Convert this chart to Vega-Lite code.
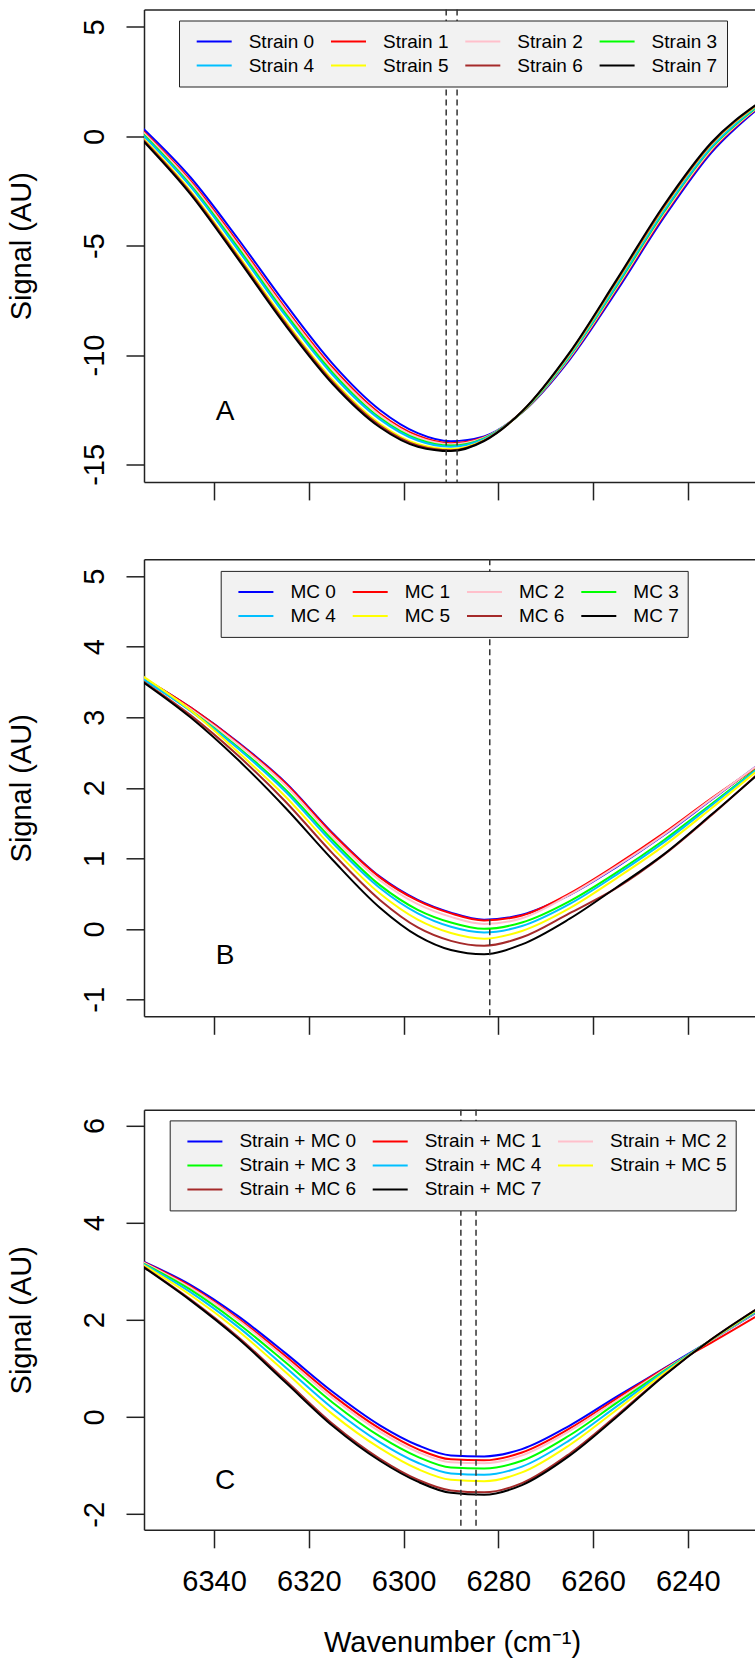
{
"$schema": "https://vega.github.io/schema/vega-lite/v6.json",
"padding": {"left": 7, "top": 8.5, "right": 0, "bottom": 0},
"config": {
  "font": "Liberation Sans",
  "view": {"stroke": null},
  "axis": {"domainColor": "#222", "domainWidth": 1.5, "tickColor": "#222", "tickWidth": 1.5, "tickSize": 18, "labelFont": "Liberation Sans", "labelFontSize": 29, "labelColor": "black", "titleFont": "Liberation Sans", "titleFontSize": 29, "titleFontWeight": "normal", "titleColor": "black", "grid": false, "zindex": 1, "labelFlush": false, "labelOverlap": false},
  "axisY": {"labelAngle": 270, "labelAlign": "center", "labelBaseline": "alphabetic", "labelPadding": 23, "titleAngle": 270, "titleBaseline": "alphabetic", "titleAlign": "center", "titleX": -114},
  "axisX": {"labelAngle": 0, "labelBaseline": "alphabetic", "labelPadding": 43},
  "legend": {"title": null, "symbolType": "stroke", "symbolSize": 1225, "symbolStrokeWidth": 2, "symbolOffset": 7.7, "labelFont": "Liberation Sans", "labelFontSize": 19, "labelColor": "black", "labelOffset": 16, "columnPadding": 7.3, "rowPadding": 0, "clipHeight": 24, "padding": 9, "fillColor": "#f2f2f2", "strokeColor": "#222", "symbolLimit": 0}
},
"datasets": {
  "A": [
    {"s":"Strain 0","x":6355,"y":0.36},{"s":"Strain 0","x":6345,"y":-1.87},{"s":"Strain 0","x":6335,"y":-4.67},{"s":"Strain 0","x":6325,"y":-7.64},{"s":"Strain 0","x":6315,"y":-10.39},{"s":"Strain 0","x":6305,"y":-12.51},{"s":"Strain 0","x":6297,"y":-13.57},{"s":"Strain 0","x":6290,"y":-13.94},{"s":"Strain 0","x":6283,"y":-13.72},{"s":"Strain 0","x":6275,"y":-12.63},{"s":"Strain 0","x":6265,"y":-10.23},{"s":"Strain 0","x":6255,"y":-7.07},{"s":"Strain 0","x":6245,"y":-3.70},{"s":"Strain 0","x":6235,"y":-0.74},{"s":"Strain 0","x":6225,"y":1.30},
    {"s":"Strain 1","x":6355,"y":0.25},{"s":"Strain 1","x":6345,"y":-2.02},{"s":"Strain 1","x":6335,"y":-4.85},{"s":"Strain 1","x":6325,"y":-7.84},{"s":"Strain 1","x":6315,"y":-10.57},{"s":"Strain 1","x":6305,"y":-12.67},{"s":"Strain 1","x":6297,"y":-13.69},{"s":"Strain 1","x":6290,"y":-14.03},{"s":"Strain 1","x":6283,"y":-13.76},{"s":"Strain 1","x":6275,"y":-12.62},{"s":"Strain 1","x":6265,"y":-10.16},{"s":"Strain 1","x":6255,"y":-6.97},{"s":"Strain 1","x":6245,"y":-3.59},{"s":"Strain 1","x":6235,"y":-0.65},{"s":"Strain 1","x":6225,"y":1.35},
    {"s":"Strain 2","x":6355,"y":0.19},{"s":"Strain 2","x":6345,"y":-2.10},{"s":"Strain 2","x":6335,"y":-4.95},{"s":"Strain 2","x":6325,"y":-7.93},{"s":"Strain 2","x":6315,"y":-10.67},{"s":"Strain 2","x":6305,"y":-12.75},{"s":"Strain 2","x":6297,"y":-13.76},{"s":"Strain 2","x":6290,"y":-14.08},{"s":"Strain 2","x":6283,"y":-13.78},{"s":"Strain 2","x":6275,"y":-12.61},{"s":"Strain 2","x":6265,"y":-10.13},{"s":"Strain 2","x":6255,"y":-6.91},{"s":"Strain 2","x":6245,"y":-3.53},{"s":"Strain 2","x":6235,"y":-0.60},{"s":"Strain 2","x":6225,"y":1.37},
    {"s":"Strain 3","x":6355,"y":0.11},{"s":"Strain 3","x":6345,"y":-2.22},{"s":"Strain 3","x":6335,"y":-5.08},{"s":"Strain 3","x":6325,"y":-8.08},{"s":"Strain 3","x":6315,"y":-10.80},{"s":"Strain 3","x":6305,"y":-12.87},{"s":"Strain 3","x":6297,"y":-13.85},{"s":"Strain 3","x":6290,"y":-14.14},{"s":"Strain 3","x":6283,"y":-13.81},{"s":"Strain 3","x":6275,"y":-12.61},{"s":"Strain 3","x":6265,"y":-10.08},{"s":"Strain 3","x":6255,"y":-6.84},{"s":"Strain 3","x":6245,"y":-3.45},{"s":"Strain 3","x":6235,"y":-0.53},{"s":"Strain 3","x":6225,"y":1.40},
    {"s":"Strain 4","x":6355,"y":0.05},{"s":"Strain 4","x":6345,"y":-2.29},{"s":"Strain 4","x":6335,"y":-5.18},{"s":"Strain 4","x":6325,"y":-8.18},{"s":"Strain 4","x":6315,"y":-10.90},{"s":"Strain 4","x":6305,"y":-12.94},{"s":"Strain 4","x":6297,"y":-13.91},{"s":"Strain 4","x":6290,"y":-14.19},{"s":"Strain 4","x":6283,"y":-13.84},{"s":"Strain 4","x":6275,"y":-12.60},{"s":"Strain 4","x":6265,"y":-10.05},{"s":"Strain 4","x":6255,"y":-6.78},{"s":"Strain 4","x":6245,"y":-3.39},{"s":"Strain 4","x":6235,"y":-0.49},{"s":"Strain 4","x":6225,"y":1.43},
    {"s":"Strain 5","x":6355,"y":-0.09},{"s":"Strain 5","x":6345,"y":-2.49},{"s":"Strain 5","x":6335,"y":-5.41},{"s":"Strain 5","x":6325,"y":-8.42},{"s":"Strain 5","x":6315,"y":-11.13},{"s":"Strain 5","x":6305,"y":-13.14},{"s":"Strain 5","x":6297,"y":-14.07},{"s":"Strain 5","x":6290,"y":-14.30},{"s":"Strain 5","x":6283,"y":-13.89},{"s":"Strain 5","x":6275,"y":-12.59},{"s":"Strain 5","x":6265,"y":-9.97},{"s":"Strain 5","x":6255,"y":-6.65},{"s":"Strain 5","x":6245,"y":-3.25},{"s":"Strain 5","x":6235,"y":-0.37},{"s":"Strain 5","x":6225,"y":1.48},
    {"s":"Strain 6","x":6355,"y":-0.14},{"s":"Strain 6","x":6345,"y":-2.56},{"s":"Strain 6","x":6335,"y":-5.50},{"s":"Strain 6","x":6325,"y":-8.52},{"s":"Strain 6","x":6315,"y":-11.22},{"s":"Strain 6","x":6305,"y":-13.22},{"s":"Strain 6","x":6297,"y":-14.13},{"s":"Strain 6","x":6290,"y":-14.35},{"s":"Strain 6","x":6283,"y":-13.91},{"s":"Strain 6","x":6275,"y":-12.58},{"s":"Strain 6","x":6265,"y":-9.93},{"s":"Strain 6","x":6255,"y":-6.60},{"s":"Strain 6","x":6245,"y":-3.20},{"s":"Strain 6","x":6235,"y":-0.33},{"s":"Strain 6","x":6225,"y":1.51},
    {"s":"Strain 7","x":6355,"y":-0.20},{"s":"Strain 7","x":6345,"y":-2.64},{"s":"Strain 7","x":6335,"y":-5.59},{"s":"Strain 7","x":6325,"y":-8.62},{"s":"Strain 7","x":6315,"y":-11.31},{"s":"Strain 7","x":6305,"y":-13.30},{"s":"Strain 7","x":6297,"y":-14.19},{"s":"Strain 7","x":6290,"y":-14.39},{"s":"Strain 7","x":6283,"y":-13.93},{"s":"Strain 7","x":6275,"y":-12.58},{"s":"Strain 7","x":6265,"y":-9.90},{"s":"Strain 7","x":6255,"y":-6.55},{"s":"Strain 7","x":6245,"y":-3.14},{"s":"Strain 7","x":6235,"y":-0.28},{"s":"Strain 7","x":6225,"y":1.53}
  ],
  "B": [
    {"s":"MC 0","x":6355,"y":3.56},{"s":"MC 0","x":6345,"y":3.14},{"s":"MC 0","x":6335,"y":2.65},{"s":"MC 0","x":6325,"y":2.08},{"s":"MC 0","x":6315,"y":1.36},{"s":"MC 0","x":6305,"y":0.74},{"s":"MC 0","x":6297,"y":0.41},{"s":"MC 0","x":6290,"y":0.23},{"s":"MC 0","x":6283,"y":0.13},{"s":"MC 0","x":6275,"y":0.20},{"s":"MC 0","x":6265,"y":0.48},{"s":"MC 0","x":6255,"y":0.88},{"s":"MC 0","x":6245,"y":1.33},{"s":"MC 0","x":6235,"y":1.83},{"s":"MC 0","x":6225,"y":2.33},
    {"s":"MC 1","x":6355,"y":3.56},{"s":"MC 1","x":6345,"y":3.14},{"s":"MC 1","x":6335,"y":2.64},{"s":"MC 1","x":6325,"y":2.07},{"s":"MC 1","x":6315,"y":1.35},{"s":"MC 1","x":6305,"y":0.73},{"s":"MC 1","x":6297,"y":0.40},{"s":"MC 1","x":6290,"y":0.22},{"s":"MC 1","x":6283,"y":0.12},{"s":"MC 1","x":6275,"y":0.19},{"s":"MC 1","x":6265,"y":0.50},{"s":"MC 1","x":6255,"y":0.91},{"s":"MC 1","x":6245,"y":1.36},{"s":"MC 1","x":6235,"y":1.85},{"s":"MC 1","x":6225,"y":2.31},
    {"s":"MC 2","x":6355,"y":3.55},{"s":"MC 2","x":6345,"y":3.12},{"s":"MC 2","x":6335,"y":2.62},{"s":"MC 2","x":6325,"y":2.04},{"s":"MC 2","x":6315,"y":1.31},{"s":"MC 2","x":6305,"y":0.69},{"s":"MC 2","x":6297,"y":0.35},{"s":"MC 2","x":6290,"y":0.17},{"s":"MC 2","x":6283,"y":0.07},{"s":"MC 2","x":6275,"y":0.15},{"s":"MC 2","x":6265,"y":0.48},{"s":"MC 2","x":6255,"y":0.89},{"s":"MC 2","x":6245,"y":1.34},{"s":"MC 2","x":6235,"y":1.84},{"s":"MC 2","x":6225,"y":2.33},
    {"s":"MC 3","x":6355,"y":3.54},{"s":"MC 3","x":6345,"y":3.10},{"s":"MC 3","x":6335,"y":2.58},{"s":"MC 3","x":6325,"y":1.98},{"s":"MC 3","x":6315,"y":1.26},{"s":"MC 3","x":6305,"y":0.62},{"s":"MC 3","x":6297,"y":0.27},{"s":"MC 3","x":6290,"y":0.09},{"s":"MC 3","x":6283,"y":0.00},{"s":"MC 3","x":6275,"y":0.09},{"s":"MC 3","x":6265,"y":0.39},{"s":"MC 3","x":6255,"y":0.80},{"s":"MC 3","x":6245,"y":1.26},{"s":"MC 3","x":6235,"y":1.77},{"s":"MC 3","x":6225,"y":2.29},
    {"s":"MC 4","x":6355,"y":3.54},{"s":"MC 4","x":6345,"y":3.09},{"s":"MC 4","x":6335,"y":2.56},{"s":"MC 4","x":6325,"y":1.95},{"s":"MC 4","x":6315,"y":1.22},{"s":"MC 4","x":6305,"y":0.58},{"s":"MC 4","x":6297,"y":0.22},{"s":"MC 4","x":6290,"y":0.03},{"s":"MC 4","x":6283,"y":-0.05},{"s":"MC 4","x":6275,"y":0.04},{"s":"MC 4","x":6265,"y":0.35},{"s":"MC 4","x":6255,"y":0.77},{"s":"MC 4","x":6245,"y":1.23},{"s":"MC 4","x":6235,"y":1.75},{"s":"MC 4","x":6225,"y":2.28},
    {"s":"MC 5","x":6355,"y":3.58},{"s":"MC 5","x":6345,"y":3.10},{"s":"MC 5","x":6335,"y":2.51},{"s":"MC 5","x":6325,"y":1.88},{"s":"MC 5","x":6315,"y":1.15},{"s":"MC 5","x":6305,"y":0.50},{"s":"MC 5","x":6297,"y":0.13},{"s":"MC 5","x":6290,"y":-0.06},{"s":"MC 5","x":6283,"y":-0.14},{"s":"MC 5","x":6275,"y":-0.03},{"s":"MC 5","x":6265,"y":0.29},{"s":"MC 5","x":6255,"y":0.72},{"s":"MC 5","x":6245,"y":1.18},{"s":"MC 5","x":6235,"y":1.71},{"s":"MC 5","x":6225,"y":2.26},
    {"s":"MC 6","x":6355,"y":3.51},{"s":"MC 6","x":6345,"y":3.03},{"s":"MC 6","x":6335,"y":2.46},{"s":"MC 6","x":6325,"y":1.81},{"s":"MC 6","x":6315,"y":1.07},{"s":"MC 6","x":6305,"y":0.41},{"s":"MC 6","x":6297,"y":0.02},{"s":"MC 6","x":6290,"y":-0.17},{"s":"MC 6","x":6283,"y":-0.24},{"s":"MC 6","x":6275,"y":-0.12},{"s":"MC 6","x":6265,"y":0.22},{"s":"MC 6","x":6255,"y":0.58},{"s":"MC 6","x":6245,"y":1.05},{"s":"MC 6","x":6235,"y":1.61},{"s":"MC 6","x":6225,"y":2.21},
    {"s":"MC 7","x":6355,"y":3.50},{"s":"MC 7","x":6345,"y":3.00},{"s":"MC 7","x":6335,"y":2.40},{"s":"MC 7","x":6325,"y":1.72},{"s":"MC 7","x":6315,"y":0.98},{"s":"MC 7","x":6305,"y":0.30},{"s":"MC 7","x":6297,"y":-0.10},{"s":"MC 7","x":6290,"y":-0.30},{"s":"MC 7","x":6283,"y":-0.36},{"s":"MC 7","x":6275,"y":-0.22},{"s":"MC 7","x":6265,"y":0.14},{"s":"MC 7","x":6255,"y":0.59},{"s":"MC 7","x":6245,"y":1.06},{"s":"MC 7","x":6235,"y":1.62},{"s":"MC 7","x":6225,"y":2.20}
  ],
  "C": [
    {"s":"Strain + MC 0","x":6355,"y":3.20},{"s":"Strain + MC 0","x":6345,"y":2.72},{"s":"Strain + MC 0","x":6335,"y":2.08},{"s":"Strain + MC 0","x":6325,"y":1.32},{"s":"Strain + MC 0","x":6315,"y":0.52},{"s":"Strain + MC 0","x":6305,"y":-0.17},{"s":"Strain + MC 0","x":6297,"y":-0.58},{"s":"Strain + MC 0","x":6290,"y":-0.79},{"s":"Strain + MC 0","x":6283,"y":-0.81},{"s":"Strain + MC 0","x":6275,"y":-0.66},{"s":"Strain + MC 0","x":6265,"y":-0.18},{"s":"Strain + MC 0","x":6255,"y":0.42},{"s":"Strain + MC 0","x":6245,"y":1.00},{"s":"Strain + MC 0","x":6235,"y":1.58},{"s":"Strain + MC 0","x":6225,"y":2.18},
    {"s":"Strain + MC 1","x":6355,"y":3.19},{"s":"Strain + MC 1","x":6345,"y":2.69},{"s":"Strain + MC 1","x":6335,"y":2.03},{"s":"Strain + MC 1","x":6325,"y":1.26},{"s":"Strain + MC 1","x":6315,"y":0.45},{"s":"Strain + MC 1","x":6305,"y":-0.24},{"s":"Strain + MC 1","x":6297,"y":-0.66},{"s":"Strain + MC 1","x":6290,"y":-0.87},{"s":"Strain + MC 1","x":6283,"y":-0.89},{"s":"Strain + MC 1","x":6275,"y":-0.73},{"s":"Strain + MC 1","x":6265,"y":-0.24},{"s":"Strain + MC 1","x":6255,"y":0.38},{"s":"Strain + MC 1","x":6245,"y":0.99},{"s":"Strain + MC 1","x":6235,"y":1.53},{"s":"Strain + MC 1","x":6225,"y":2.10},
    {"s":"Strain + MC 2","x":6355,"y":3.18},{"s":"Strain + MC 2","x":6345,"y":2.66},{"s":"Strain + MC 2","x":6335,"y":2.00},{"s":"Strain + MC 2","x":6325,"y":1.21},{"s":"Strain + MC 2","x":6315,"y":0.39},{"s":"Strain + MC 2","x":6305,"y":-0.30},{"s":"Strain + MC 2","x":6297,"y":-0.72},{"s":"Strain + MC 2","x":6290,"y":-0.93},{"s":"Strain + MC 2","x":6283,"y":-0.95},{"s":"Strain + MC 2","x":6275,"y":-0.79},{"s":"Strain + MC 2","x":6265,"y":-0.29},{"s":"Strain + MC 2","x":6255,"y":0.34},{"s":"Strain + MC 2","x":6245,"y":0.97},{"s":"Strain + MC 2","x":6235,"y":1.58},{"s":"Strain + MC 2","x":6225,"y":2.19},
    {"s":"Strain + MC 3","x":6355,"y":3.16},{"s":"Strain + MC 3","x":6345,"y":2.62},{"s":"Strain + MC 3","x":6335,"y":1.93},{"s":"Strain + MC 3","x":6325,"y":1.13},{"s":"Strain + MC 3","x":6315,"y":0.30},{"s":"Strain + MC 3","x":6305,"y":-0.40},{"s":"Strain + MC 3","x":6297,"y":-0.82},{"s":"Strain + MC 3","x":6290,"y":-1.04},{"s":"Strain + MC 3","x":6283,"y":-1.06},{"s":"Strain + MC 3","x":6275,"y":-0.90},{"s":"Strain + MC 3","x":6265,"y":-0.38},{"s":"Strain + MC 3","x":6255,"y":0.29},{"s":"Strain + MC 3","x":6245,"y":0.95},{"s":"Strain + MC 3","x":6235,"y":1.59},{"s":"Strain + MC 3","x":6225,"y":2.20},
    {"s":"Strain + MC 4","x":6355,"y":3.15},{"s":"Strain + MC 4","x":6345,"y":2.57},{"s":"Strain + MC 4","x":6335,"y":1.86},{"s":"Strain + MC 4","x":6325,"y":1.03},{"s":"Strain + MC 4","x":6315,"y":0.18},{"s":"Strain + MC 4","x":6305,"y":-0.52},{"s":"Strain + MC 4","x":6297,"y":-0.94},{"s":"Strain + MC 4","x":6290,"y":-1.16},{"s":"Strain + MC 4","x":6283,"y":-1.19},{"s":"Strain + MC 4","x":6275,"y":-1.02},{"s":"Strain + MC 4","x":6265,"y":-0.48},{"s":"Strain + MC 4","x":6255,"y":0.22},{"s":"Strain + MC 4","x":6245,"y":0.93},{"s":"Strain + MC 4","x":6235,"y":1.59},{"s":"Strain + MC 4","x":6225,"y":2.21},
    {"s":"Strain + MC 5","x":6355,"y":3.13},{"s":"Strain + MC 5","x":6345,"y":2.51},{"s":"Strain + MC 5","x":6335,"y":1.78},{"s":"Strain + MC 5","x":6325,"y":0.93},{"s":"Strain + MC 5","x":6315,"y":0.06},{"s":"Strain + MC 5","x":6305,"y":-0.64},{"s":"Strain + MC 5","x":6297,"y":-1.07},{"s":"Strain + MC 5","x":6290,"y":-1.29},{"s":"Strain + MC 5","x":6283,"y":-1.32},{"s":"Strain + MC 5","x":6275,"y":-1.14},{"s":"Strain + MC 5","x":6265,"y":-0.58},{"s":"Strain + MC 5","x":6255,"y":0.15},{"s":"Strain + MC 5","x":6245,"y":0.90},{"s":"Strain + MC 5","x":6235,"y":1.59},{"s":"Strain + MC 5","x":6225,"y":2.23},
    {"s":"Strain + MC 6","x":6355,"y":3.10},{"s":"Strain + MC 6","x":6345,"y":2.42},{"s":"Strain + MC 6","x":6335,"y":1.65},{"s":"Strain + MC 6","x":6325,"y":0.76},{"s":"Strain + MC 6","x":6315,"y":-0.14},{"s":"Strain + MC 6","x":6305,"y":-0.86},{"s":"Strain + MC 6","x":6297,"y":-1.29},{"s":"Strain + MC 6","x":6290,"y":-1.51},{"s":"Strain + MC 6","x":6283,"y":-1.55},{"s":"Strain + MC 6","x":6275,"y":-1.36},{"s":"Strain + MC 6","x":6265,"y":-0.76},{"s":"Strain + MC 6","x":6255,"y":0.03},{"s":"Strain + MC 6","x":6245,"y":0.86},{"s":"Strain + MC 6","x":6235,"y":1.60},{"s":"Strain + MC 6","x":6225,"y":2.25},
    {"s":"Strain + MC 7","x":6355,"y":3.09},{"s":"Strain + MC 7","x":6345,"y":2.40},{"s":"Strain + MC 7","x":6335,"y":1.62},{"s":"Strain + MC 7","x":6325,"y":0.72},{"s":"Strain + MC 7","x":6315,"y":-0.18},{"s":"Strain + MC 7","x":6305,"y":-0.90},{"s":"Strain + MC 7","x":6297,"y":-1.33},{"s":"Strain + MC 7","x":6290,"y":-1.56},{"s":"Strain + MC 7","x":6283,"y":-1.60},{"s":"Strain + MC 7","x":6275,"y":-1.40},{"s":"Strain + MC 7","x":6265,"y":-0.80},{"s":"Strain + MC 7","x":6255,"y":0.00},{"s":"Strain + MC 7","x":6245,"y":0.85},{"s":"Strain + MC 7","x":6235,"y":1.60},{"s":"Strain + MC 7","x":6225,"y":2.25}
  ],
  "vA": [{"x": 6291.0}, {"x": 6288.7}],
  "vB": [{"x": 6281.8}],
  "vC": [{"x": 6287.9}, {"x": 6284.7}],
  "tA": [{"x": 6337.7, "y": -12.6, "t": "A"}],
  "tB": [{"x": 6337.7, "y": -0.39, "t": "B"}],
  "tC": [{"x": 6337.7, "y": -1.31, "t": "C"}]
},
"spacing": 56.8,
"resolve": {"scale": {"color": "independent", "x": "independent", "y": "independent"}, "legend": {"color": "independent"}},
"vconcat": [
  {
    "width": 611, "height": 472.4,
    "layer": [
      {"data": {"name": "A"},
       "mark": {"type": "line", "interpolate": "monotone", "strokeWidth": 2, "clip": true},
       "encoding": {
         "x": {"field": "x", "type": "quantitative", "scale": {"domain": [6354.8, 6225.8], "nice": false, "zero": false}, "axis": {"orient": "bottom", "values": [6340, 6320, 6300, 6280, 6260, 6240], "labels": false, "title": null}},
         "y": {"field": "y", "type": "quantitative", "scale": {"domain": [-15.8, 5.8], "nice": false, "zero": false}, "axis": {"values": [-15, -10, -5, 0, 5], "title": "Signal (AU)", "titleY": 236.2, "labelExpr": "'' + datum.value"}},
         "color": {"field": "s", "type": "nominal", "sort": null,
           "scale": {"domain": ["Strain 0","Strain 1","Strain 2","Strain 3","Strain 4","Strain 5","Strain 6","Strain 7"], "range": ["#0000FF","#FF0000","#FFC0CB","#00FF00","#00BFFF","#FFFF00","#A52A2A","#000000"]},
           "legend": {"orient": "none", "legendX": 35, "legendY": 11, "columns": 4, "direction": "horizontal"}}
       }},
      {"data": {"name": "vA"},
       "mark": {"type": "rule", "strokeDash": [6, 4], "strokeWidth": 1.5, "color": "#333"},
       "encoding": {"x": {"field": "x", "type": "quantitative", "scale": {"domain": [6354.8, 6225.8], "nice": false, "zero": false}, "axis": {"orient": "top", "ticks": false, "labels": false, "title": null}}}},
      {"data": {"name": "tA"},
       "mark": {"type": "text", "fontSize": 28, "font": "Liberation Sans", "color": "black", "align": "center", "baseline": "middle"},
       "encoding": {
         "x": {"field": "x", "type": "quantitative", "scale": {"domain": [6354.8, 6225.8], "nice": false, "zero": false}, "axis": null},
         "y": {"field": "y", "type": "quantitative", "scale": {"domain": [-15.8, 5.8], "nice": false, "zero": false}},
         "text": {"field": "t"}}}
    ]
  },
  {
    "spacing": 73.5,
    "resolve": {"scale": {"color": "independent", "x": "independent", "y": "independent"}, "legend": {"color": "independent"}},
    "vconcat": [
      {
        "width": 611, "height": 457,
        "layer": [
          {"data": {"name": "B"},
           "mark": {"type": "line", "interpolate": "monotone", "strokeWidth": 2, "clip": true},
           "encoding": {
             "x": {"field": "x", "type": "quantitative", "scale": {"domain": [6354.8, 6225.8], "nice": false, "zero": false}, "axis": {"orient": "bottom", "values": [6340, 6320, 6300, 6280, 6260, 6240], "labels": false, "title": null}},
             "y": {"field": "y", "type": "quantitative", "scale": {"domain": [-1.24, 5.24], "nice": false, "zero": false}, "axis": {"values": [-1, 0, 1, 2, 3, 4, 5], "title": "Signal (AU)", "titleY": 228.5, "labelExpr": "'' + datum.value"}},
             "color": {"field": "s", "type": "nominal", "sort": null,
               "scale": {"domain": ["MC 0","MC 1","MC 2","MC 3","MC 4","MC 5","MC 6","MC 7"], "range": ["#0000FF","#FF0000","#FFC0CB","#00FF00","#00BFFF","#FFFF00","#A52A2A","#000000"]},
               "legend": {"orient": "none", "legendX": 76.7, "legendY": 11.6, "columns": 4, "direction": "horizontal"}}
           }},
          {"data": {"name": "vB"},
           "mark": {"type": "rule", "strokeDash": [6, 4], "strokeWidth": 1.5, "color": "#333"},
           "encoding": {"x": {"field": "x", "type": "quantitative", "scale": {"domain": [6354.8, 6225.8], "nice": false, "zero": false}, "axis": {"orient": "top", "ticks": false, "labels": false, "title": null}}}},
          {"data": {"name": "tB"},
           "mark": {"type": "text", "fontSize": 28, "font": "Liberation Sans", "color": "black", "align": "center", "baseline": "middle"},
           "encoding": {
             "x": {"field": "x", "type": "quantitative", "scale": {"domain": [6354.8, 6225.8], "nice": false, "zero": false}, "axis": null},
             "y": {"field": "y", "type": "quantitative", "scale": {"domain": [-1.24, 5.24], "nice": false, "zero": false}},
             "text": {"field": "t"}}}
        ]
      },
      {
        "width": 611, "height": 420,
        "layer": [
          {"data": {"name": "C"},
           "mark": {"type": "line", "interpolate": "monotone", "strokeWidth": 2, "clip": true},
           "encoding": {
             "x": {"field": "x", "type": "quantitative", "scale": {"domain": [6354.8, 6225.8], "nice": false, "zero": false}, "axis": {"orient": "bottom", "values": [6340, 6320, 6300, 6280, 6260, 6240], "title": "Wavenumber (cm⁻¹)", "titleX": 308, "titleY": 122, "titleBaseline": "alphabetic", "titleAlign": "center", "labelExpr": "'' + datum.value"}},
             "y": {"field": "y", "type": "quantitative", "scale": {"domain": [-2.32, 6.32], "nice": false, "zero": false}, "axis": {"values": [-2, 0, 2, 4, 6], "title": "Signal (AU)", "titleY": 210, "labelExpr": "'' + datum.value"}},
             "color": {"field": "s", "type": "nominal", "sort": null,
               "scale": {"domain": ["Strain + MC 0","Strain + MC 1","Strain + MC 2","Strain + MC 3","Strain + MC 4","Strain + MC 5","Strain + MC 6","Strain + MC 7"], "range": ["#0000FF","#FF0000","#FFC0CB","#00FF00","#00BFFF","#FFFF00","#A52A2A","#000000"]},
               "legend": {"orient": "none", "legendX": 25.7, "legendY": 10.6, "columns": 3, "direction": "horizontal"}}
           }},
          {"data": {"name": "vC"},
           "mark": {"type": "rule", "strokeDash": [6, 4], "strokeWidth": 1.5, "color": "#333"},
           "encoding": {"x": {"field": "x", "type": "quantitative", "scale": {"domain": [6354.8, 6225.8], "nice": false, "zero": false}, "axis": {"orient": "top", "ticks": false, "labels": false, "title": null}}}},
          {"data": {"name": "tC"},
           "mark": {"type": "text", "fontSize": 28, "font": "Liberation Sans", "color": "black", "align": "center", "baseline": "middle"},
           "encoding": {
             "x": {"field": "x", "type": "quantitative", "scale": {"domain": [6354.8, 6225.8], "nice": false, "zero": false}, "axis": null},
             "y": {"field": "y", "type": "quantitative", "scale": {"domain": [-2.32, 6.32], "nice": false, "zero": false}},
             "text": {"field": "t"}}}
        ]
      }
    ]
  }
]
}
